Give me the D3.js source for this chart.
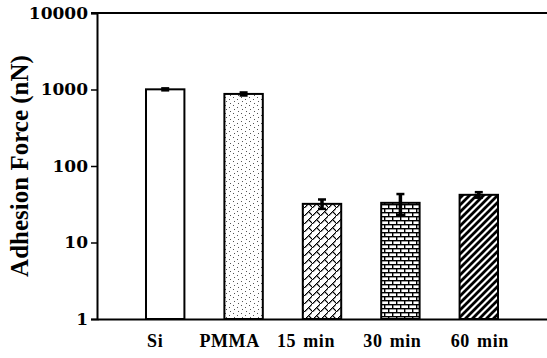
<!DOCTYPE html>
<html>
<head>
<meta charset="utf-8">
<script src="https://cdn.jsdelivr.net/npm/d3@7"></script>
<style>
html,body{margin:0;padding:0;background:#fff;}
svg{display:block;}
text{font-family:"Liberation Serif","Times New Roman",serif;font-weight:bold;fill:#000;}
</style>
</head>
<body>
<svg id="chart" width="547" height="358"></svg>
<script>
const categories = ["Si", "PMMA", "15 min", "30 min", "60 min"];
const values = [1005, 875, 32, 33, 42];
const errors = [30, 40, 4.5, 10, 3.5];
const patterns = ["none", "dots", "diagbrick", "hbrick", "wdiag"];
const yTicks = [1, 10, 100, 1000, 10000];
const yLabel = "Adhesion Force (nN)";

// layout only
const labelDx = [-10, -14, -16, -8, 1];

const svg = d3.select("#chart");
const margin = {left: 97, right: 0, top: 13, bottom: 39};
const W = 547, H = 358;

const defs = svg.append("defs");
// dots
const pd = defs.append("pattern").attr("id","p-dots").attr("patternUnits","userSpaceOnUse")
  .attr("width",8).attr("height",8);
pd.append("rect").attr("width",8).attr("height",8).attr("fill","#fff");
[[1,1],[5,3],[2,5],[6,7]].forEach(([x,y])=>pd.append("rect").attr("x",x).attr("y",y).attr("width",1).attr("height",1).attr("fill","#555"));
// diagonal brick
const pb = defs.append("pattern").attr("id","p-diagbrick").attr("patternUnits","userSpaceOnUse")
  .attr("width",8).attr("height",8);
pb.append("rect").attr("width",8).attr("height",8).attr("fill","#fff");
const dbBits = ["00000001","00000010","00000100","00001000","00010100","00100010","01000001","10000000"];
dbBits.forEach((row,y)=>row.split("").forEach((b,x)=>{ if(b==="1") pb.append("rect").attr("x",x).attr("y",y).attr("width",1.3).attr("height",1.3).attr("fill","#000");}));
// horizontal brick
const ph = defs.append("pattern").attr("id","p-hbrick").attr("patternUnits","userSpaceOnUse")
  .attr("width",8).attr("height",8);
ph.append("rect").attr("width",8).attr("height",8).attr("fill","#fff");
ph.append("rect").attr("x",0).attr("y",0).attr("width",8).attr("height",1.4).attr("fill","#000");
ph.append("rect").attr("x",0).attr("y",0).attr("width",1.4).attr("height",4).attr("fill","#000");
ph.append("rect").attr("x",0).attr("y",4).attr("width",8).attr("height",1.4).attr("fill","#000");
ph.append("rect").attr("x",4).attr("y",4).attr("width",1.4).attr("height",4).attr("fill","#000");
// wide diagonal
const pw = defs.append("pattern").attr("id","p-wdiag").attr("patternUnits","userSpaceOnUse")
  .attr("width",7).attr("height",7);
pw.append("rect").attr("width",7).attr("height",7).attr("fill","#fff");
pw.append("path").attr("d","M-2,9 L9,-2 M-2,2 L2,-2 M5,9 L9,5").attr("stroke","#000").attr("stroke-width",2.8);

const x = d3.scaleBand().domain(categories).range([margin.left, W - margin.right])
  .paddingInner(0.51).paddingOuter(0.625);
const y = d3.scaleLog().domain([1, 10000]).range([H - margin.bottom, margin.top]);

// bars
const data = categories.map((c,i)=>({c, v: values[i], e: errors[i], p: patterns[i]}));
svg.selectAll("rect.bar").data(data).enter().append("rect").attr("class","bar")
  .attr("x", d=>x(d.c)).attr("width", x.bandwidth())
  .attr("y", d=>y(d.v)).attr("height", d=>y(1)-y(d.v))
  .attr("fill", d=> d.p==="none" ? "#fff" : `url(#p-${d.p})`)
  .attr("stroke","#000").attr("stroke-width",2);

// error bars
const eb = svg.selectAll("g.err").data(data).enter().append("g");
const cx = d => x(d.c)+x.bandwidth()/2;
eb.append("line").attr("x1", cx).attr("x2", cx)
  .attr("y1", d=>y(d.v+d.e)).attr("y2", d=>y(d.v-d.e)).attr("stroke","#000").attr("stroke-width",3.5);
eb.append("line").attr("x1", d=>cx(d)-4).attr("x2", d=>cx(d)+4)
  .attr("y1", d=>y(d.v+d.e)).attr("y2", d=>y(d.v+d.e)).attr("stroke","#000").attr("stroke-width",2.5);
eb.append("line").attr("x1", d=>cx(d)-4).attr("x2", d=>cx(d)+4)
  .attr("y1", d=>y(d.v-d.e)).attr("y2", d=>y(d.v-d.e)).attr("stroke","#000").attr("stroke-width",2.5);

// y axis
const yAxis = d3.axisLeft(y).tickValues(yTicks).tickFormat(d3.format("d")).tickSize(6).tickPadding(3);
const gy = svg.append("g").attr("transform",`translate(${margin.left},0)`).call(yAxis);
gy.select(".domain").attr("stroke","#000").attr("stroke-width",2);
gy.selectAll(".tick line").attr("stroke","#000").attr("stroke-width",1.5);
gy.selectAll(".tick text").style("font-size","17px").style("font-family","'DejaVu Serif',serif").style("font-weight","bold").attr("fill","#000");

// x axis
const xAxis = d3.axisBottom(x).tickSize(0).tickPadding(15);
const gx = svg.append("g").attr("transform",`translate(0,${H - margin.bottom})`).call(xAxis);
gx.select(".domain").attr("stroke","#000").attr("stroke-width",2);
gx.selectAll(".tick text").style("font-size","18px").style("font-family","'Liberation Serif',serif")
  .style("font-weight","bold").style("letter-spacing","0.6px").style("word-spacing","2px")
  .attr("fill","#000").attr("dx", (d,i)=>labelDx[i]);

// top frame line
svg.append("line").attr("x1", margin.left-6).attr("x2", W).attr("y1", y(10000)).attr("y2", y(10000))
  .attr("stroke","#000").attr("stroke-width",2);

// y label
svg.append("text").attr("transform",`translate(28,${(y(1)+y(10000))/2}) rotate(-90)`)
  .attr("text-anchor","middle").style("font-size","25px").text(yLabel);
</script>
</body>
</html>
